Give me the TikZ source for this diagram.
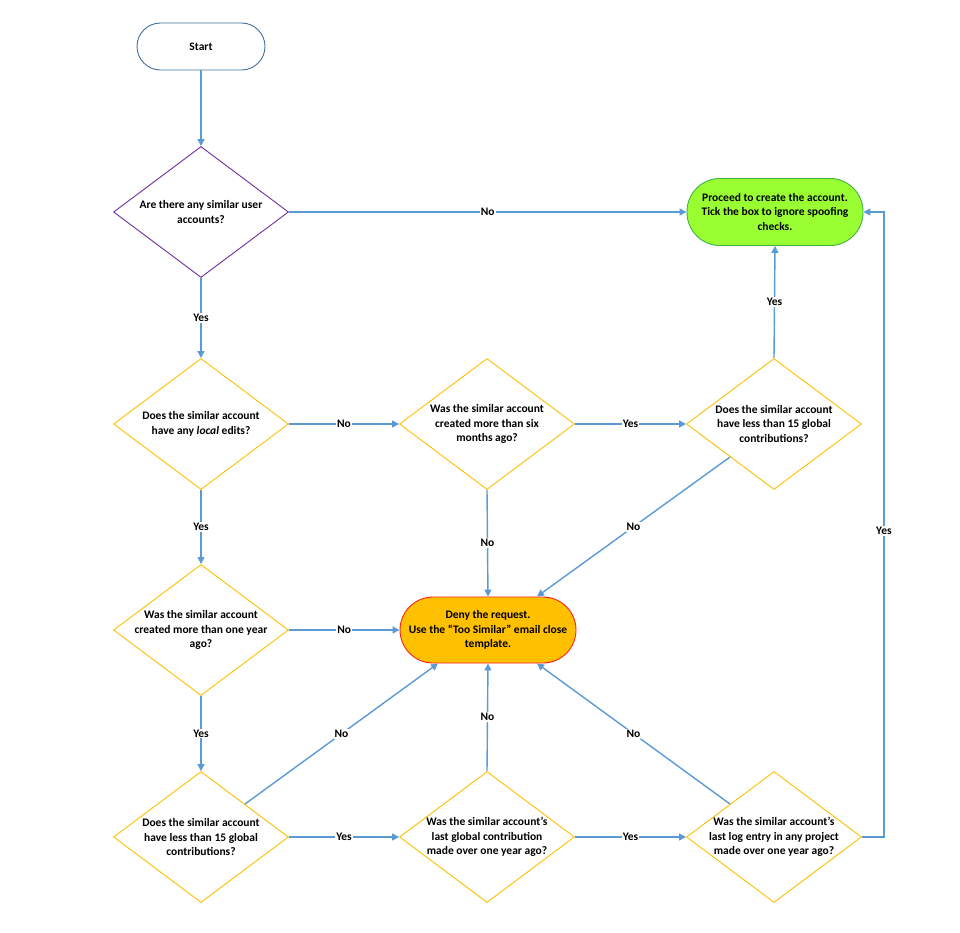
\documentclass[tikz,border=0pt]{standalone}
\usepackage{fontspec}
\setmainfont{Carlito}
\usetikzlibrary{shapes.geometric,arrows.meta,calc}
\definecolor{conn}{HTML}{5B9BD5}
\definecolor{dborder}{HTML}{FFC000}
\definecolor{pborder}{HTML}{7030A0}
\definecolor{gfill}{HTML}{99FF33}
\definecolor{gborder}{HTML}{3CB043}
\definecolor{ofill}{HTML}{FFC000}
\definecolor{oborder}{HTML}{FF2020}
\definecolor{sborder}{HTML}{41719C}
\tikzset{
  x=1pt, y=-1pt,
  txt/.style={font=\fontsize{11.5}{14.3}\selectfont\bfseries, align=center, text=black},
  dia/.style={diamond, draw=dborder, line width=0.9pt, minimum width=175pt, minimum height=131pt, inner sep=0pt, fill=white},
  term/.style={rectangle, draw, line width=0.9pt, inner sep=0pt, txt},
  conn/.style={draw=conn, line width=1.4pt, -{Triangle[width=7pt,length=7pt]}},
  lab/.style={fill=white, inner sep=1pt, txt},
}
\begin{document}
\begin{tikzpicture}
\useasboundingbox (0,0) rectangle (960,933);
% nodes
\node[term, draw=sborder, fill=white, minimum width=128pt, minimum height=47pt, rounded corners=23.5pt] (S) at (201,46.5) {Start};
\node[dia, draw=pborder, label={[txt]center:{Are there any similar user\\accounts?}}] (D1) at (201,212) {};
\node[term, draw=gborder, fill=gfill, minimum width=176pt, minimum height=67pt, rounded corners=33pt] (G) at (775,212) {Proceed to create the account.\\Tick the box to ignore spoofing\\checks.};
\node[dia, label={[txt]center:{Does the similar account\\have any \textit{local} edits?}}] (D2) at (201,424) {};
\node[dia, label={[txt]center:{Was the similar account\\created more than six\\months ago?}}] (D3) at (487,424) {};
\node[dia, label={[txt]center:{Does the similar account\\have less than 15 global\\contributions?}}] (D4) at (774,424) {};
\node[dia, label={[txt]center:{Was the similar account\\created more than one year\\ago?}}] (D5) at (201,630) {};
\node[term, draw=oborder, fill=ofill, minimum width=176pt, minimum height=66pt, rounded corners=33pt] (O) at (488,630) {Deny the request.\\Use the “Too Similar” email close\\template.};
\node[dia, label={[txt]center:{Does the similar account\\have less than 15 global\\contributions?}}] (D6) at (201,837) {};
\node[dia, label={[txt]center:{Was the similar account’s\\last global contribution\\made over one year ago?}}] (D7) at (487,837) {};
\node[dia, label={[txt]center:{Was the similar account’s\\last log entry in any project\\made over one year ago?}}] (D8) at (774,837) {};
% helper coordinates
\coordinate (D4sw) at ($(D4.west)!0.5!(D4.south)$);
\coordinate (D6ne) at ($(D6.east)!0.5!(D6.north)$);
\coordinate (D8nw) at ($(D8.west)!0.5!(D8.north)$);
\coordinate (Ont) at ([xshift=49pt]O.north);
\coordinate (Osw) at ([xshift=-50pt]O.south);
\coordinate (Ose) at ([xshift=49pt]O.south);
\coordinate (R1) at ([xshift=22pt]D8.east);
\coordinate (R2) at (R1 |- G.east);
% connectors
\draw[conn] (S) -- (D1);
\draw[conn] (D1.east) -- node[lab]{No} (G.west);
\draw[conn] (D1.south) -- node[lab]{Yes} (D2.north);
\draw[conn] (D2.east) -- node[lab]{No} (D3.west);
\draw[conn] (D3.east) -- node[lab]{Yes} (D4.west);
\draw[conn] (D4.north) -- node[lab]{Yes} (G.south);
\draw[conn] (D4sw) -- node[lab]{No} (Ont);
\draw[conn] (D3.south) -- node[lab]{No} (O.north);
\draw[conn] (D2.south) -- node[lab]{Yes} (D5.north);
\draw[conn] (D5.east) -- node[lab]{No} (O.west);
\draw[conn] (D5.south) -- node[lab]{Yes} (D6.north);
\draw[conn] (D6ne) -- node[lab]{No} (Osw);
\draw[conn] (D6.east) -- node[lab]{Yes} (D7.west);
\draw[conn] (D7.north) -- node[lab]{No} (O.south);
\draw[conn] (D7.east) -- node[lab]{Yes} (D8.west);
\draw[conn] (D8nw) -- node[lab]{No} (Ose);
\draw[conn] (D8.east) -- (R1) -- node[lab, pos=0.49]{Yes} (R2) -- (G.east);
\end{tikzpicture}
\end{document}
